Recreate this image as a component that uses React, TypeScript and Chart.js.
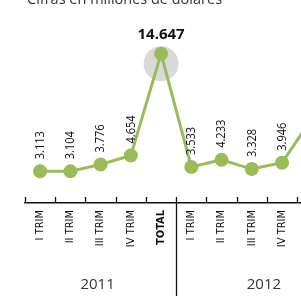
import React, { useEffect, useRef } from "react";
import { Chart, registerables } from "chart.js";

Chart.register(...registerables);

// ---- data ----
const title = "Cifras en millones de dólares";
const categories = [
  "I TRIM", "II TRIM", "III TRIM", "IV TRIM", "TOTAL",
  "I TRIM", "II TRIM", "III TRIM", "IV TRIM", "TOTAL",
];
const values = [3113, 3104, 3776, 4654, 14647, 3533, 4233, 3328, 3946, 8350];
const totalIndices = [4, 9];
const yearLabels = ["2011", "2012"];
const yearStart = [0, 5]; // first category index of each year group
const yearEnd = [5, 11]; // boundary after each group

const GREEN = "#9bbb59";
const NARROW = "'DejaVu Sans Condensed', 'Liberation Sans', sans-serif";

function fmt(v: number): string {
  const s = String(Math.round(v));
  return s.replace(/\B(?=(\d{3})+(?!\d))/g, ".");
}

const decorPlugin = {
  id: "decor",
  beforeDatasetsDraw(chart: any) {
    const { ctx } = chart;
    const meta = chart.getDatasetMeta(0);
    const peak = meta.data[4];
    if (!peak) return;
    ctx.save();
    ctx.fillStyle = "#d9d9d9";
    ctx.beginPath();
    ctx.arc(peak.x, peak.y + 10, 17.5, 0, Math.PI * 2);
    ctx.fill();
    ctx.restore();
  },
  afterDraw(chart: any) {
    const { ctx, chartArea } = chart;
    const meta = chart.getDatasetMeta(0);
    const n = categories.length;
    const step = (chartArea.right - chartArea.left) / n;
    const bottom = chartArea.bottom;
    ctx.save();
    // title
    ctx.fillStyle = "#333";
    ctx.font = "14.5px 'Open Sans', sans-serif";
    ctx.textAlign = "left";
    ctx.textBaseline = "alphabetic";
    ctx.fillText(title, 27, 4);

    // tick marks above axis
    ctx.strokeStyle = "#111";
    ctx.lineWidth = 1.3;
    for (let k = 0; k <= n; k++) {
      const x = Math.round(chartArea.left + k * step) + 0.5;
      ctx.beginPath();
      ctx.moveTo(x, bottom - 6);
      ctx.lineTo(x, bottom);
      ctx.stroke();
    }
    // separator between years
    const sx = Math.round(chartArea.left + yearStart[1] * step) + 0.5;
    ctx.beginPath();
    ctx.moveTo(sx, bottom);
    ctx.lineTo(sx, chart.height);
    ctx.stroke();

    // year labels
    ctx.fillStyle = "#333";
    ctx.font = "15px 'Open Sans', sans-serif";
    ctx.textAlign = "center";
    ctx.textBaseline = "middle";
    yearLabels.forEach((y, i) => {
      const cx = chartArea.left + ((yearStart[i] + yearEnd[i]) / 2) * step - 3;
      ctx.fillText(y, cx, 285);
    });

    // value labels
    meta.data.forEach((pt: any, i: number) => {
      const txt = fmt(values[i]);
      if (i === 4) {
        ctx.fillStyle = "#111";
        ctx.font = "bold 15px 'Open Sans', sans-serif";
        ctx.textAlign = "center";
        ctx.textBaseline = "middle";
        ctx.fillText(txt, pt.x, pt.y - 19);
      } else {
        ctx.save();
        ctx.translate(pt.x, pt.y - 12);
        ctx.rotate(-Math.PI / 2);
        ctx.scale(0.85, 1);
        ctx.fillStyle = "#111";
        ctx.font = "13px 'Open Sans', sans-serif";
        ctx.textAlign = "left";
        ctx.textBaseline = "middle";
        ctx.fillText(txt, 0, 0);
        ctx.restore();
      }
    });
    ctx.restore();
  },
};

function ChartView() {
  const ref = useRef<HTMLCanvasElement | null>(null);
  useEffect(() => {
    if (!ref.current) return;
    const chart = new Chart(ref.current, {
      type: "line",
      data: {
        labels: categories,
        datasets: [
          {
            data: values,
            borderColor: GREEN,
            backgroundColor: GREEN,
            pointBackgroundColor: GREEN,
            pointBorderColor: GREEN,
            borderWidth: 3,
            pointRadius: 5.5,
            tension: 0,
          },
        ],
      },
      options: {
        animation: false,
        responsive: false,
        devicePixelRatio: 1,
        layout: { padding: { left: 25, right: 12.6, top: 0, bottom: 0 } },
        plugins: {
          legend: { display: false },
          tooltip: { enabled: false },
          title: { display: false },
        },
        scales: {
          x: {
            offset: true,
            grid: { display: false, drawTicks: false },
            border: { display: true, color: "#111", width: 1.5 },
            ticks: {
              autoSkip: false,
              minRotation: 90,
              maxRotation: 90,
              padding: 7,
              color: "#111",
              font: (c: any) =>
                totalIndices.includes(c.index)
                  ? { family: NARROW, size: 11, weight: "bold" }
                  : { family: NARROW, size: 11, weight: "normal" },
            },
            afterFit: (s: any) => {
              s.height = 93;
            },
          },
          y: {
            display: false,
            min: 0,
            max: 19080,
          },
        },
      },
      plugins: [decorPlugin],
    });
    return () => chart.destroy();
  }, []);
  return <canvas ref={ref} width={340} height={296} style={{ width: 340, height: 296, display: "block" }} />;
}

export default function App() {
  return (
    <div style={{ position: "absolute", left: 0, top: 0, width: 301, height: 296, overflow: "hidden", background: "#fff" }}>
      <ChartView />
    </div>
  );
}
